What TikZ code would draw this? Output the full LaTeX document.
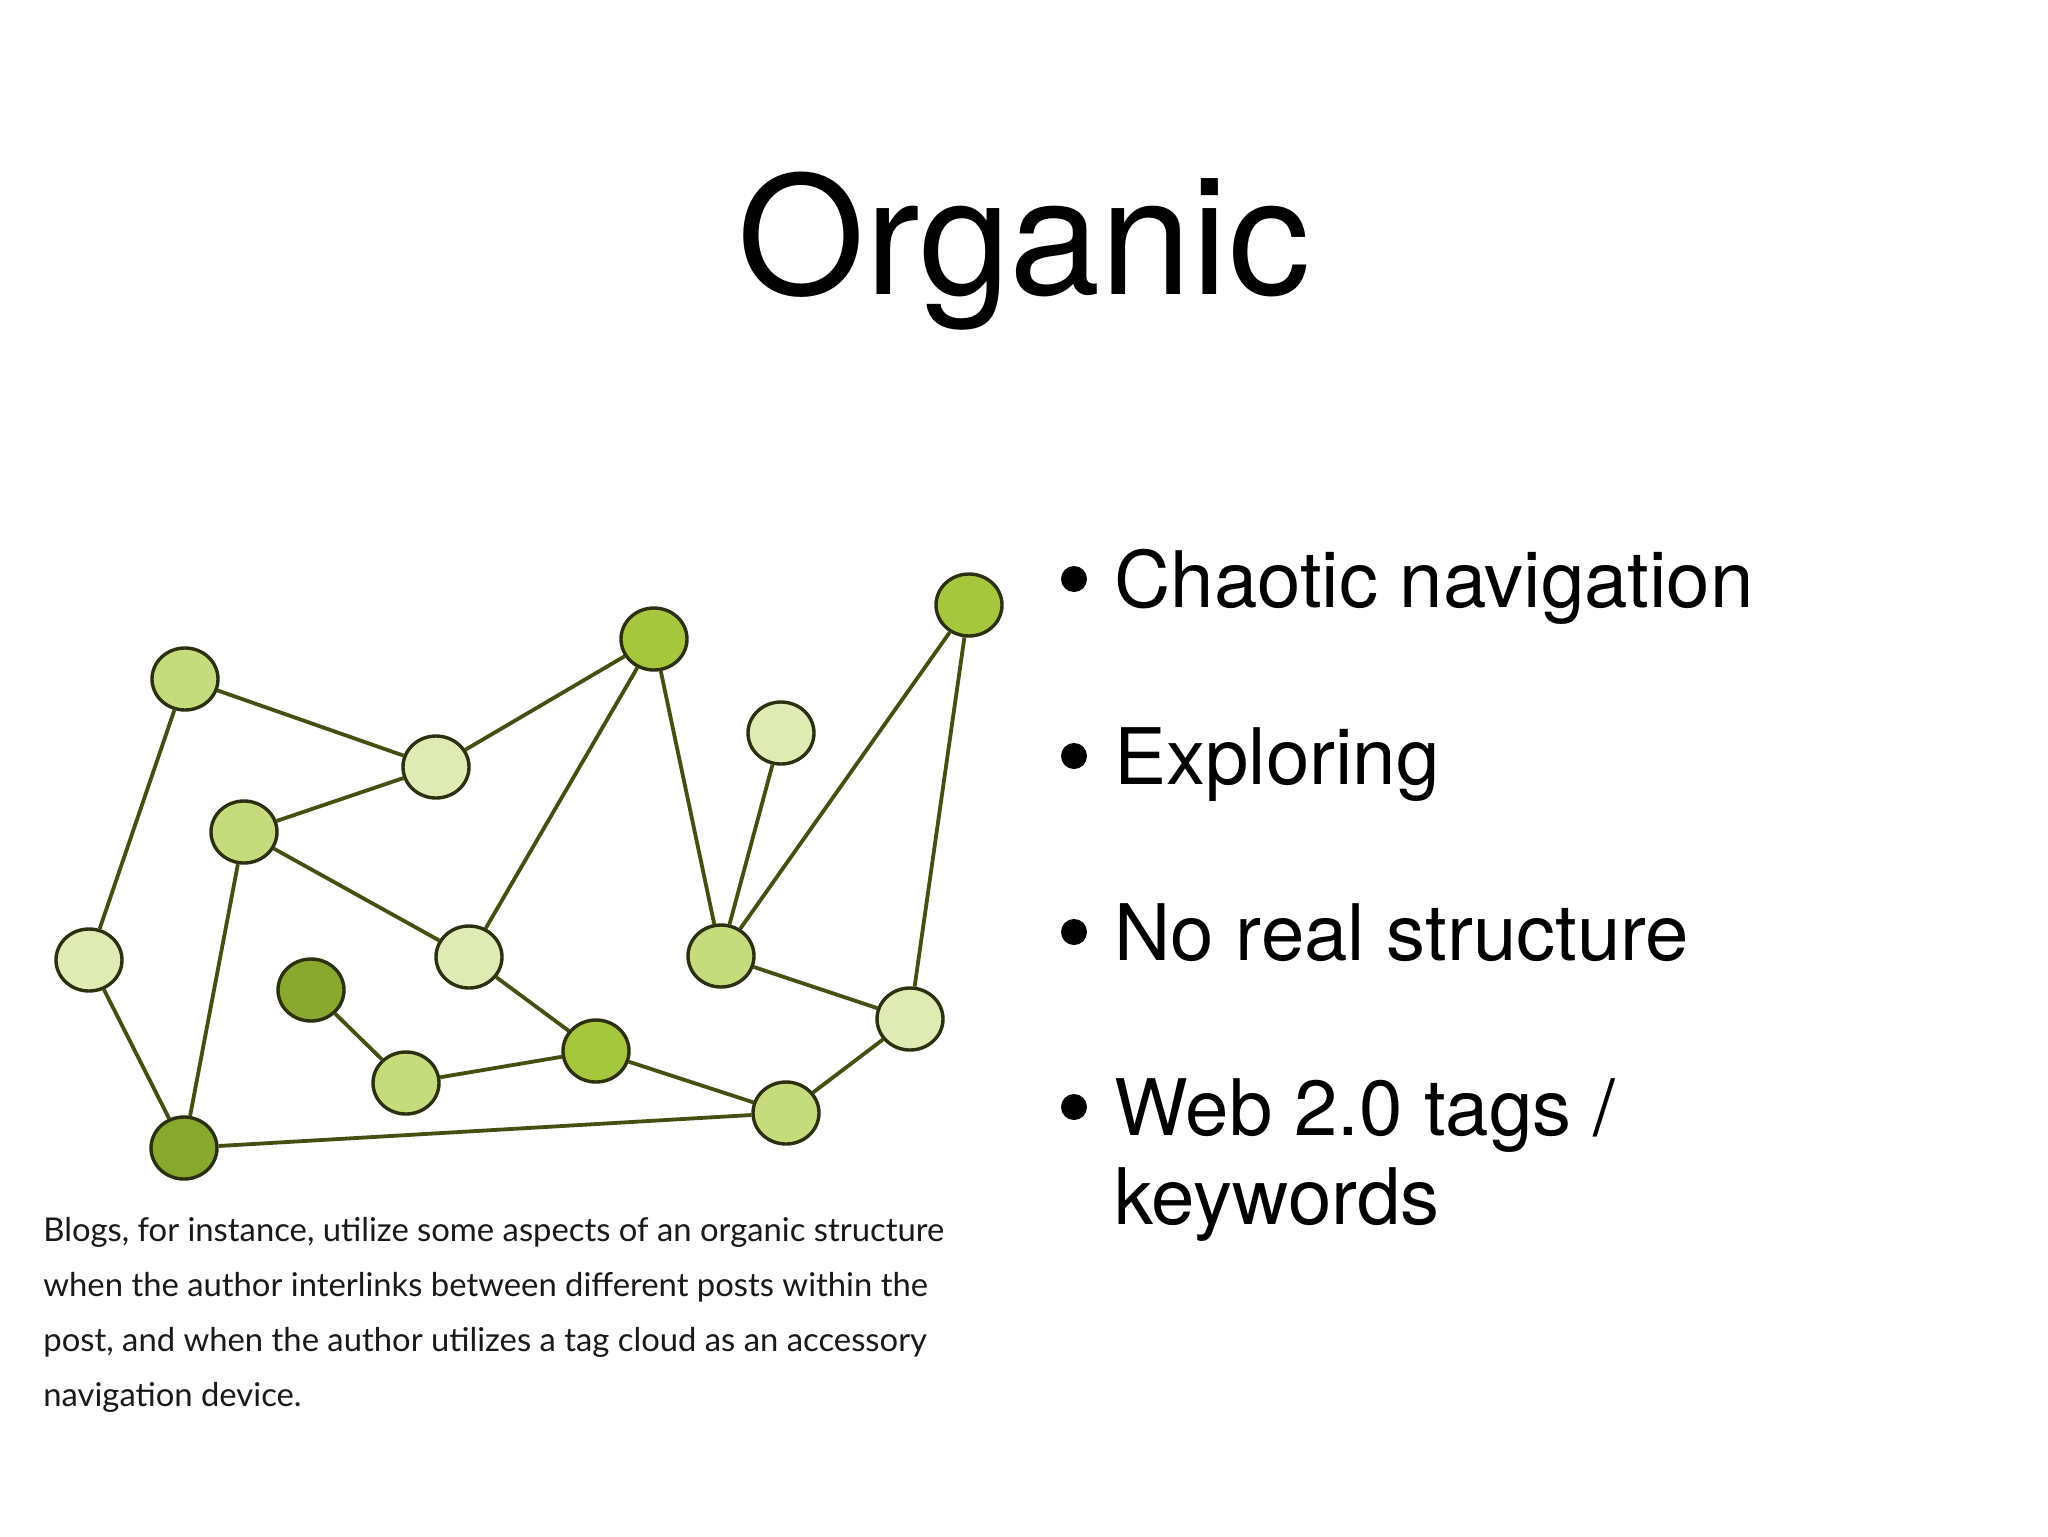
\documentclass[tikz,border=0pt]{standalone}
\usepackage{fontspec}
\setmainfont{TeX Gyre Heros}
\newfontfamily\capfont{Lato}
\usetikzlibrary{shapes.geometric}
\definecolor{nlight}{HTML}{DFEAB4}
\definecolor{nmid}{HTML}{C6DC7C}
\definecolor{ndark}{HTML}{A6C63E}
\definecolor{ndarker}{HTML}{88A82E}
\definecolor{edgecol}{HTML}{464E12}
\definecolor{rimcol}{HTML}{2C300F}
\tikzset{
  blob/.style={ellipse, draw=rimcol, line width=1.7pt, minimum width=33pt, minimum height=31pt, inner sep=0pt},
  lightblob/.style={blob, fill=nlight},
  midblob/.style={blob, fill=nmid},
  darkblob/.style={blob, fill=ndark},
  darkerblob/.style={blob, fill=ndarker},
  link/.style={draw=edgecol, line width=1.9pt},
  bul/.style={circle, fill=black, inner sep=0pt, minimum size=13pt},
  btext/.style={anchor=base west, inner sep=0pt, font=\fontsize{39}{45}\selectfont},
  ctext/.style={anchor=base west, inner sep=0pt, font=\capfont\fontsize{16.4}{20}\selectfont, text=black!90}
}
\begin{document}
\begin{tikzpicture}[x=0.5pt,y=-0.5pt]
\useasboundingbox[fill=white] (0,0) rectangle (2048,1536);
% title
\node[anchor=base, inner sep=0pt, font=\fontsize{82}{90}\selectfont] (title) at (1024,294) {Organic};
% graph nodes
\node[midblob]    (A) at (185,679) {};
\node[lightblob]  (B) at (436,767) {};
\node[midblob]    (C) at (244,832) {};
\node[lightblob]  (D) at (89,960) {};
\node[lightblob]  (E) at (469,957) {};
\node[darkerblob] (F) at (311,990) {};
\node[midblob]    (G) at (406,1083) {};
\node[darkerblob] (H) at (184,1148) {};
\node[darkblob]   (I) at (654,639) {};
\node[darkblob]   (J) at (969,605) {};
\node[lightblob]  (K) at (781,733) {};
\node[midblob]    (L) at (721,956) {};
\node[lightblob]  (M) at (910,1019) {};
\node[darkblob]   (N) at (596,1051) {};
\node[midblob]    (O) at (786,1113) {};
% connectors
\draw[link] (A) -- (B);
\draw[link] (A) -- (D);
\draw[link] (B) -- (I);
\draw[link] (B) -- (C);
\draw[link] (C) -- (E);
\draw[link] (C) -- (H);
\draw[link] (D) -- (H);
\draw[link] (E) -- (I);
\draw[link] (E) -- (N);
\draw[link] (F) -- (G);
\draw[link] (G) -- (N);
\draw[link] (N) -- (O);
\draw[link] (H) -- (O);
\draw[link] (O) -- (M);
\draw[link] (M) -- (L);
\draw[link] (M) -- (J);
\draw[link] (L) -- (I);
\draw[link] (L) -- (K);
\draw[link] (L) -- (J);
% bullets
\node[bul] (b1) at (1074,579) {};
\node[btext] (t1) at (1114,607) {Chaotic navigation};
\node[bul] (b2) at (1074,756) {};
\node[btext] (t2) at (1114,784) {Exploring};
\node[bul] (b3) at (1074,932) {};
\node[btext] (t3) at (1114,960) {No real structure};
\node[bul] (b4) at (1074,1107) {};
\node[btext] (t4) at (1114,1135) {Web 2.0 tags /};
\node[btext] (t5) at (1114,1224) {keywords};
% caption
\node[ctext] (c1) at (43,1241) {Blogs, for instance, utilize some aspects of an organic structure};
\node[ctext] (c2) at (43,1296) {when the author interlinks between different posts within the};
\node[ctext] (c3) at (43,1351) {post, and when the author utilizes a tag cloud as an accessory};
\node[ctext] (c4) at (43,1406) {navigation device.};
\end{tikzpicture}
\end{document}
